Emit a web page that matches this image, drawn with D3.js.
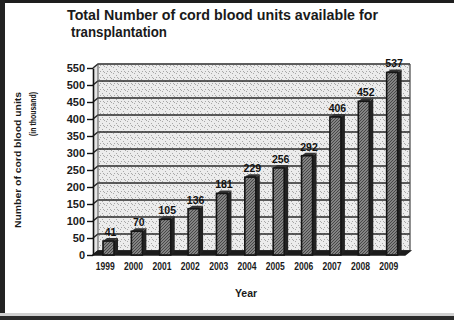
<!DOCTYPE html>
<html><head><meta charset="utf-8">
<script src="https://cdn.jsdelivr.net/npm/d3@7"></script>
<style>
html,body{margin:0;padding:0;background:#fff;}
svg{display:block;font-family:"Liberation Sans",Arial,sans-serif;}
</style></head>
<body><svg id="c" width="454" height="320"></svg>
<script>
const years = ["1999","2000","2001","2002","2003","2004","2005","2006","2007","2008","2009"];
const units = [41,70,105,136,181,229,256,292,406,452,537];
const yTicks = [0,50,100,150,200,250,300,350,400,450,500,550];
const titleLines = ["Total Number of cord blood units available for","transplantation"];
const yTitleLines = ["Number of cord blood units","(in thousand)"];
const xTitle = "Year";

const svg = d3.select("#c");
const defs = svg.append("defs");

const wallPat = defs.append("pattern").attr("id","wall").attr("patternUnits","userSpaceOnUse")
  .attr("width",7).attr("height",6);
wallPat.append("rect").attr("width",7).attr("height",6).attr("fill","#ececec");
[[1,1],[4,3],[2,5],[6,0],[5,5]].forEach(p=>wallPat.append("rect").attr("x",p[0]).attr("y",p[1])
  .attr("width",1).attr("height",1).attr("fill","#a8a8a8"));
const barPat = defs.append("pattern").attr("id","bar").attr("patternUnits","userSpaceOnUse")
  .attr("width",3).attr("height",3);
barPat.append("rect").attr("width",3).attr("height",3).attr("fill","#838383");
[[0,0],[2,1],[1,2]].forEach(p=>barPat.append("rect").attr("x",p[0]).attr("y",p[1])
  .attr("width",1).attr("height",1).attr("fill","#474747"));

// frame of the scan
svg.append("rect").attr("x",0).attr("y",0).attr("width",454).attr("height",3).attr("fill","#1e1e1e");
svg.append("rect").attr("x",0).attr("y",0).attr("width",5).attr("height",320).attr("fill","#222");
svg.append("rect").attr("x",0).attr("y",313).attr("width",454).attr("height",3).attr("fill","#d0d0d0");
svg.append("rect").attr("x",0).attr("y",316).attr("width",454).attr("height",4).attr("fill","#2a2a2a");

const x = d3.scaleBand().domain(years).range([93,405]).paddingInner(0).paddingOuter(0);
const y = d3.scaleLinear().domain([0,550]).range([255,68]);
const dx = 5, dy = -4;
const x0 = 93, x1 = 405;

svg.append("rect").attr("x",x0+dx).attr("y",y(550)+dy).attr("width",x1-x0)
  .attr("height",y(0)-y(550)).attr("fill","url(#wall)");
svg.append("path").attr("d",`M${x0},${y(550)}L${x0+dx},${y(550)+dy}L${x0+dx},${y(0)+dy}L${x0},${y(0)}Z`)
  .attr("fill","#e4e4e4");

const g = svg.append("g");
g.selectAll("path.grid").data(yTicks).join("path").attr("class","grid")
  .attr("d",d=>`M${x0},${y(d)}L${x0+dx},${y(d)+dy}L${x1+dx},${y(d)+dy}`)
  .attr("fill","none").attr("stroke","#2b2b2b").attr("stroke-width",1.6);
svg.append("line").attr("x1",x1+dx).attr("x2",x1+dx).attr("y1",y(550)+dy).attr("y2",y(0)+dy)
  .attr("stroke","#444").attr("stroke-width",1.2);
svg.append("line").attr("x1",x0+dx).attr("x2",x0+dx).attr("y1",y(550)+dy).attr("y2",y(0)+dy)
  .attr("stroke","#555").attr("stroke-width",1);

svg.append("path").attr("d",`M${x0},${y(0)}L${x0+dx},${y(0)+dy}L${x1+dx},${y(0)+dy}L${x1},${y(0)}Z`)
  .attr("fill","#1c1c1c").attr("stroke","#1c1c1c").attr("stroke-width",1.5);

const bw = 11, bd = 4;
const bars = svg.append("g").selectAll("g").data(years.map((d,i)=>({year:d,v:units[i]}))).join("g");
bars.append("path")
  .attr("d",d=>{const bx=x(d.year)+10+bw, ty=y(d.v);
    return `M${bx},${ty}L${bx+bd},${ty-3}L${bx+bd},${y(0)-3}L${bx},${y(0)}Z`;})
  .attr("fill","#222");
bars.append("path")
  .attr("d",d=>{const bx=x(d.year)+10, ty=y(d.v);
    return `M${bx},${ty}L${bx+bd},${ty-3}L${bx+bw+bd},${ty-3}L${bx+bw},${ty}Z`;})
  .attr("fill","#333");
bars.append("rect")
  .attr("x",d=>x(d.year)+10).attr("y",d=>y(d.v)).attr("width",bw)
  .attr("height",d=>y(0)-y(d.v)).attr("fill","url(#bar)")
  .attr("stroke","#151515").attr("stroke-width",1.6);
bars.append("text")
  .attr("x",d=>x(d.year)+10+(bw+bd)/2).attr("y",d=>y(d.v)-5)
  .attr("text-anchor","middle").attr("font-size",10.5).attr("font-weight","bold")
  .attr("fill","#111").text(d=>d.v);

const ya = svg.append("g").attr("transform",`translate(${x0},0)`)
  .call(d3.axisLeft(y).tickValues(yTicks).tickSize(6).tickPadding(2).tickSizeOuter(0));
ya.select(".domain").attr("stroke","#111").attr("stroke-width",1.6);
ya.selectAll(".tick line").attr("stroke","#111").attr("stroke-width",1.4);
ya.selectAll(".tick text").attr("font-size",11).attr("font-weight","bold").attr("fill","#1a1a1a")
  .attr("font-family","Liberation Sans, Arial, sans-serif");

const xa = svg.append("g").attr("transform",`translate(-2,${y(0)+3})`)
  .call(d3.axisBottom(x).tickSize(0).tickPadding(4));
xa.select(".domain").remove();
xa.selectAll(".tick text").attr("font-size",11.5).attr("font-weight","bold").attr("fill","#1a1a1a")
  .attr("textLength",19).attr("lengthAdjust","spacingAndGlyphs")
  .attr("font-family","Liberation Sans, Arial, sans-serif");

svg.append("text").attr("x",67).attr("y",20).attr("font-size",14).attr("font-weight","bold")
  .attr("fill","#1a1a1a").attr("textLength",311).attr("lengthAdjust","spacingAndGlyphs").text(titleLines[0]);
svg.append("text").attr("x",71).attr("y",37).attr("font-size",14).attr("font-weight","bold")
  .attr("fill","#1a1a1a").attr("textLength",96).attr("lengthAdjust","spacingAndGlyphs").text(titleLines[1]);

svg.append("text").attr("transform","translate(21,92) rotate(-90)").attr("text-anchor","end")
  .attr("font-size",9.5).attr("font-weight","bold").attr("fill","#1a1a1a")
  .attr("textLength",136).attr("lengthAdjust","spacingAndGlyphs").text(yTitleLines[0]);
svg.append("text").attr("transform","translate(36,92) rotate(-90)").attr("text-anchor","end")
  .attr("font-size",9.5).attr("font-weight","bold").attr("fill","#1a1a1a")
  .attr("textLength",44).attr("lengthAdjust","spacingAndGlyphs").text(yTitleLines[1]);

svg.append("text").attr("x",246).attr("y",297).attr("text-anchor","middle")
  .attr("font-size",10.5).attr("font-weight","bold").attr("fill","#1a1a1a").text(xTitle);
</script></body></html>
